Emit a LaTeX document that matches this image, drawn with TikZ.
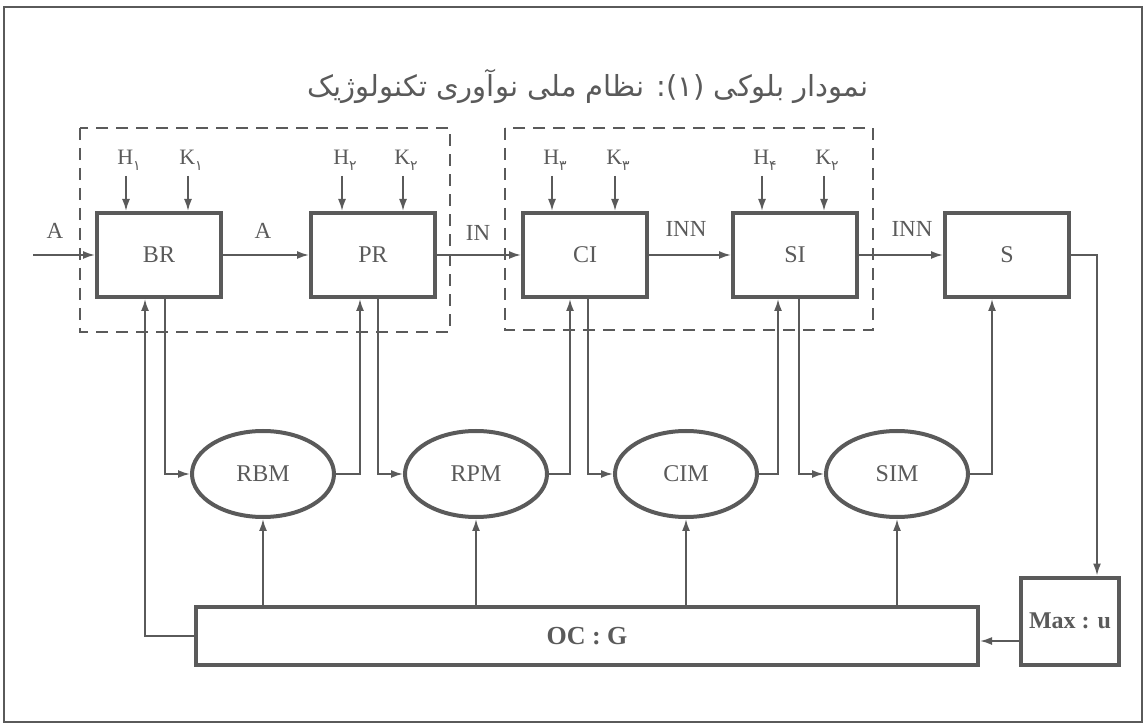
\documentclass[tikz,border=0pt]{standalone}
\usepackage{fontspec}
\setmainfont{Liberation Serif}
\newfontfamily\farsi[Script=Arabic]{DejaVu Sans}
\TeXXeTstate=1
\usetikzlibrary{arrows.meta,positioning,calc,shapes.geometric}
\definecolor{tinta}{RGB}{90,90,90}
\newcommand\idx[1]{\raisebox{-0.6ex}{\farsi\scriptsize #1}}
\tikzset{
  blok/.style={draw=tinta,line width=2pt,minimum width=62pt,minimum height=42pt,inner sep=0pt,
    font=\fontsize{12}{14}\selectfont},
  tojas/.style={ellipse,draw=tinta,line width=2pt,minimum width=71pt,minimum height=43pt,inner sep=0pt,
    font=\fontsize{12}{14}\selectfont},
  felirat/.style={inner sep=1pt,font=\fontsize{11.5}{13}\selectfont},
  nyil/.style={-{Latex[length=6pt,width=4pt]},draw=tinta,line width=0.9pt},
  szagg/.style={draw=tinta,line width=1pt,dash pattern=on 6pt off 4pt},
}

\begin{document}
\begin{tikzpicture}[x=0.5pt,y=-0.5pt,text=tinta]
  \useasboundingbox (0,0) rectangle (1145,726);
  \draw[tinta,line width=1.2pt] (4,7) rectangle (1142,722);
  \node[font=\farsi\fontsize{14.5}{18}\selectfont] (cim) at (588,86)
    {\beginR نمودار بلوکی (۱): نظام ملی نوآوری تکنولوژیک\endR};

  % upper chain
  \node[blok] (BR) at (159,255) {BR};
  \node[blok] (PR) at (373,255) {PR};
  \node[blok] (CI) at (585,255) {CI};
  \node[blok] (SI) at (795,255) {SI};
  \node[blok] (S)  at (1007,255) {S};
  \draw[szagg] (80,128) rectangle (450,332);
  \draw[szagg] (505,128) rectangle (873,330);

  \coordinate (be) at (33,255);
  \node[felirat] (a0) at (55,231) {A};
  \node[felirat] (a1) at (263,231) {A};
  \node[felirat] (in) at (478,233) {IN};
  \node[felirat] (inn1) at (686,229) {INN};
  \node[felirat] (inn2) at (912,229) {INN};
  \draw[nyil] (be) -- (BR);
  \draw[nyil] (BR) -- (PR);
  \draw[nyil] (PR) -- (CI);
  \draw[nyil] (CI) -- (SI);
  \draw[nyil] (SI) -- (S);

  \foreach \n/\x/\b/\l/\s in {h1/126/BR/H/۱,k1/188/BR/K/۱,h2/342/PR/H/۲,k2/403/PR/K/۲,
                              h3/552/CI/H/۳,k3/615/CI/K/۳,h4/762/SI/H/۴,k4/824/SI/K/۲}{
    \node[felirat,font=\fontsize{11}{12}\selectfont] (\n) at (\x+3,160) {\l\idx{\s}};
    \draw[nyil] (\x,176) -- (\x,0 |- \b.north);
  }

  % models
  \node[tojas] (RBM) at (263,474) {RBM};
  \node[tojas] (RPM) at (476,474) {RPM};
  \node[tojas] (CIM) at (686,474) {CIM};
  \node[tojas] (SIM) at (897,474) {SIM};
  \draw[nyil] ($(BR.south)+(6,0)$) |- (RBM.west);
  \draw[nyil] ($(PR.south)+(5,0)$) |- (RPM.west);
  \draw[nyil] ($(CI.south)+(3,0)$) |- (CIM.west);
  \draw[nyil] ($(SI.south)+(4,0)$) |- (SIM.west);
  \draw[nyil] (RBM.east) -| ($(PR.south)+(-13,0)$);
  \draw[nyil] (RPM.east) -| ($(CI.south)+(-15,0)$);
  \draw[nyil] (CIM.east) -| ($(SI.south)+(-17,0)$);
  \draw[nyil] (SIM.east) -| ($(S.south)+(-15,0)$);

  % control
  \node[blok,minimum width=391pt,minimum height=29pt,font=\bfseries\fontsize{13}{15}\selectfont] (OC) at (587,636) {OC : G};
  \node[blok,minimum width=49pt,minimum height=43.5pt,font=\bfseries\fontsize{12}{14}\selectfont] (Max) at (1070,621) {Max : u};
  \foreach \m in {RBM,RPM,CIM,SIM}
    \draw[nyil] (OC.north -| \m.south) -- (\m.south);
  \draw[nyil] (OC.west) -| ($(BR.south)+(-14,0)$);
  \draw[nyil] (S.east) -| ($(Max.north)+(27,0)$);
  \coordinate (mx) at ($(Max.west)+(0,20)$);
  \draw[nyil] (mx) -- (mx -| OC.east);
\end{tikzpicture}
\end{document}
